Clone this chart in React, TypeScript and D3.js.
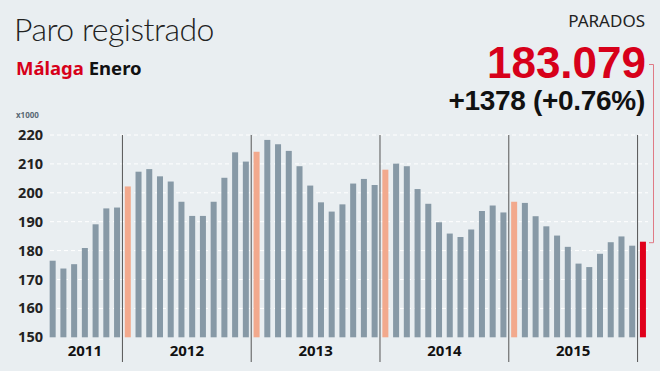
import React from "react";
import * as d3 from "d3";

// paro registrado Málaga, miles, jun 2011 - ene 2016
const years = ["2011", "2012", "2013", "2014", "2015", "2016"];
const values2011 = [176.5, 173.8, 175.3, 180.9, 189.1, 194.6, 194.9]; // jun-dic
const values2012 = [202.2, 207.3, 208.2, 205.7, 203.9, 196.9, 192.0, 192.0, 196.9, 205.2, 214.0, 210.8];
const values2013 = [214.2, 218.3, 216.8, 214.5, 209.2, 202.5, 196.7, 193.5, 196.0, 203.2, 204.8, 202.7];
const values2014 = [208.0, 210.1, 209.2, 201.3, 196.2, 189.8, 185.9, 184.7, 187.3, 193.7, 195.6, 193.2];
const values2015 = [196.9, 196.5, 191.9, 188.4, 185.2, 181.3, 175.5, 174.3, 178.9, 182.9, 184.9, 181.7];
const values2016 = [183.079];
const yTicks = [150, 160, 170, 180, 190, 200, 210, 220];

const seriesByYear = [values2011, values2012, values2013, values2014, values2015, values2016];
const firstMonth = [6, 1, 1, 1, 1, 1];

const bars = seriesByYear.flatMap((vals, yi) =>
  vals.map((v, i) => ({ year: years[yi], month: firstMonth[yi] + i, value: v }))
);
const lastIdx = bars.length - 1;

const W = 660;
const H = 371;
const font = "'Noto Sans', 'DejaVu Sans', sans-serif";
const heavy = "'Liberation Sans', Arial, sans-serif";

export default function App() {
  const x = d3
    .scaleBand<number>()
    .domain(d3.range(bars.length))
    .range([47.3, 648.3])
    .paddingInner(0.44)
    .paddingOuter(0.22);
  const y = d3.scaleLinear().domain([150, 220]).range([337.3, 135]);
  const step = x.step();

  const colorOf = (d: { month: number }, i: number) =>
    i === lastIdx ? "#e0001b" : d.month === 1 ? "#f2a98d" : "#8799a6";

  // year boundaries (index of first bar of each year)
  const starts = years.map((yr) => bars.findIndex((b) => b.year === yr));
  const sepX = starts.slice(1).map((s) => (x(s) as number) - (step - x.bandwidth()) / 2);

  const redTop = y(values2016[0]);

  return (
    <svg width={W} height={H} style={{ position: "absolute", left: 0, top: 0, background: "#e9eef1" }}>
      <rect width={W} height={H} fill="#e9eef1" />
      <text x={14} y={41} fontFamily="Lato, 'Open Sans', sans-serif" fontWeight={300} fontSize={32} fill="#222" letterSpacing={-0.5}>
        Paro registrado
      </text>
      <text x={16} y={75} fontFamily={font} fontWeight={700} fontSize={18.5}>
        <tspan fill="#d7001a">Málaga</tspan>
        <tspan fill="#111"> Enero</tspan>
      </text>
      <text x={16} y={118} fontFamily={font} fontWeight={700} fontSize={8} fill="#5a6a76">x1000</text>

      <text x={645} y={27} textAnchor="end" fontFamily={font} fontWeight={400} fontSize={17} fill="#222">PARADOS</text>
      <text x={646} y={78} textAnchor="end" fontFamily={heavy} fontWeight={700} fontSize={44} fill="#d7001a">
        183.079
      </text>
      <text x={645} y={110} textAnchor="end" fontFamily={heavy} fontWeight={700} fontSize={28} fill="#111" letterSpacing={-0.3}>
        +1378 (+0.76%)
      </text>

      {/* grid */}
      {yTicks.slice(1).map((t) => (
        <line key={t} x1={50} x2={648} y1={y(t)} y2={y(t)} stroke="#ffffff" strokeWidth={1} strokeDasharray="4,3" />
      ))}
      {yTicks.map((t) => (
        <text key={t} x={43} y={y(t)} dy="0.35em" textAnchor="end" fontFamily={font} fontWeight={700} fontSize={14.5} fill="#222">
          {t}
        </text>
      ))}

      {bars.map((d, i) => (
        <rect
          key={i}
          x={x(i)}
          y={y(d.value)}
          width={x.bandwidth()}
          height={y(150) - y(d.value)}
          fill={colorOf(d, i)}
        />
      ))}

      {sepX.map((sx, i) => (
        <line key={i} x1={sx} x2={sx} y1={135} y2={362} stroke="#555" strokeWidth={1} />
      ))}

      {years.slice(0, 5).map((yr, i) => {
        const a = i === 0 ? x.range()[0] : sepX[i - 1];
        const b = sepX[i];
        return (
          <text key={yr} x={(a + b) / 2} y={356} textAnchor="middle" fontFamily={font} fontWeight={700} fontSize={15} fill="#111">
            {yr}
          </text>
        );
      })}

      <path
        d={`M649,64.5 H653.5 V${redTop + 1} H649`}
        fill="none"
        stroke="#e07a86"
        strokeWidth={1}
      />
    </svg>
  );
}
